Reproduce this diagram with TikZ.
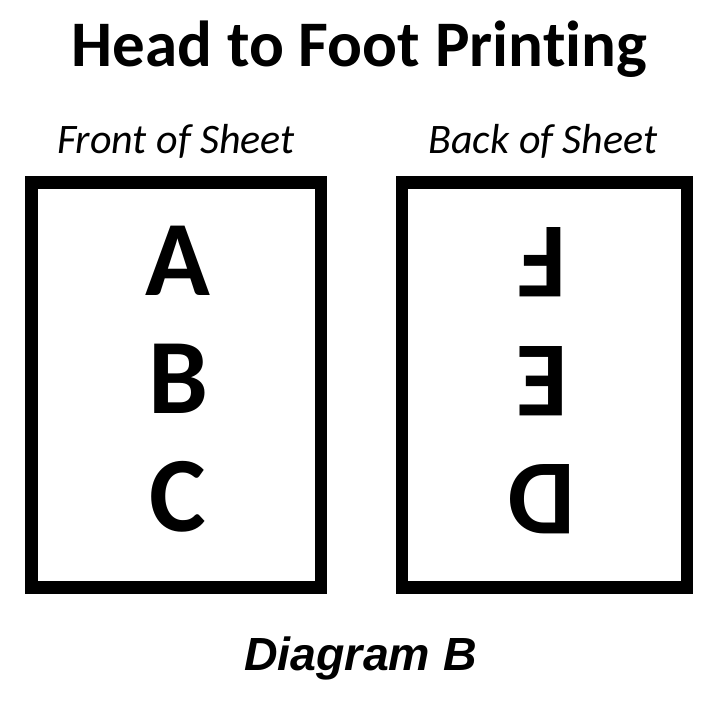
\documentclass[tikz,border=0pt]{standalone}
\usepackage{fontspec}
\setmainfont{Carlito}[Ligatures=NoCommon]
\newfontfamily\arialfont{Liberation Sans}
\usetikzlibrary{positioning}

\begin{document}
\begin{tikzpicture}[x=1pt,y=-1pt,node distance=118pt,
  headline/.style={inner sep=0pt,anchor=base,font=\fontsize{65}{78}\selectfont\bfseries},
  side/.style={inner sep=0pt,anchor=base,font=\fontsize{42}{50}\selectfont\itshape},
  sheet/.style={line width=12.5pt},
  letter/.style={inner sep=0pt,font=\fontsize{107}{128}\selectfont\bfseries},
  flipped/.style={letter,rotate=180}]

\useasboundingbox (0,0) rectangle (720,702);

\node[headline] (head) at (359.5,66) {Head to Foot Printing};
 \node[side] (front) at (176,153) {Front of Sheet};
	\node[side] (back) at (543,153) {Back of Sheet};

\draw[sheet] (31.5,182.5) rectangle (321,587.5);
\draw[sheet] (402,182.5) rectangle (687,587.5);

% front: reads normally
\node[letter] (A) at (178,261) {A};
\node[letter] (B) [below of=A] {B};
\node[letter] (C) [below of=B] {C};

% back: turned round (the shift turns with it)
\node[flipped] (F) at (542,262.5) {F};
\node[flipped] (E) at (542,381) {E};
\node[flipped] (D) at (542,499.5) {D};

\node[inner sep=0pt,anchor=base,font=\arialfont\fontsize{46.5}{56}\selectfont\bfseries\itshape] (diag) at (360.5,670) {Diagram B};

\end{tikzpicture}
\end{document}
